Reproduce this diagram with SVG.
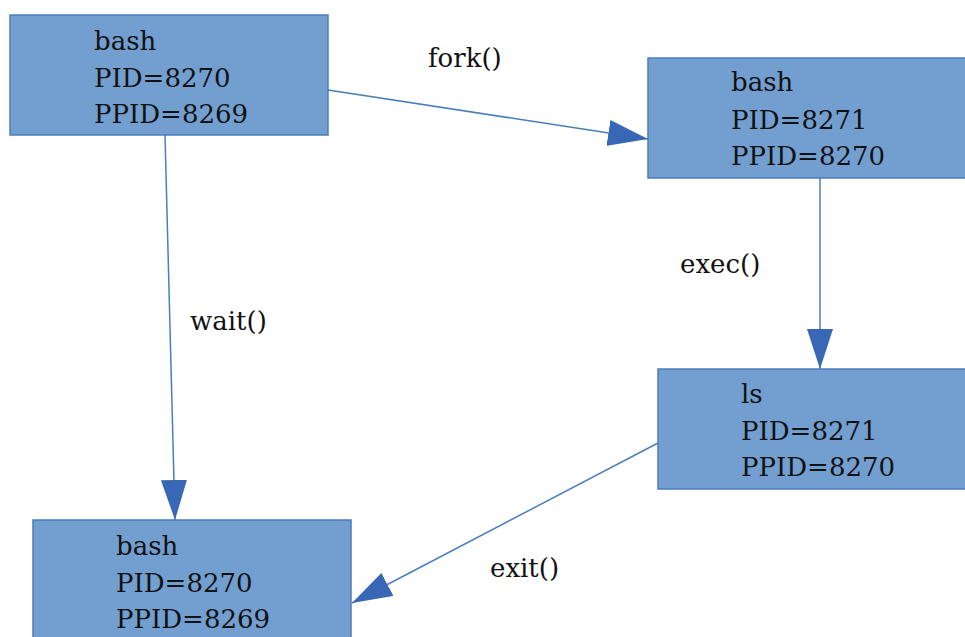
<svg xmlns="http://www.w3.org/2000/svg" width="965" height="637" viewBox="0 0 965 637">
<style>
.box{fill:#729fd0;stroke:#4a7ebb;stroke-width:1.5}
text{font-family:"DejaVu Serif",serif;font-size:26px;fill:#111}
.c{stroke:#4a7ebb;stroke-width:1.5;fill:none}
</style>
<defs>
<marker id="ah" markerWidth="40" markerHeight="26" refX="40" refY="13" orient="auto" markerUnits="userSpaceOnUse">
<path d="M0,0 L40,13 L0,26 Z" fill="#3767b5"/>
</marker>
</defs>
<rect width="965" height="637" fill="#fff"/>
<g id="connectors">
<line class="c" x1="328" y1="90" x2="648" y2="139" marker-end="url(#ah)"/>
<line class="c" x1="165" y1="135" x2="175" y2="520" marker-end="url(#ah)"/>
<line class="c" x1="820" y1="178" x2="820" y2="369" marker-end="url(#ah)"/>
<line class="c" x1="658" y1="443" x2="352" y2="603" marker-end="url(#ah)"/>
<text x="428" y="67">fork()</text>
<text x="190" y="330">wait()</text>
<text x="680" y="273">exec()</text>
<text x="490" y="577">exit()</text>
</g>
<g id="n1">
<rect class="box" x="10" y="15" width="318" height="120"/>
<text x="94" y="50">bash</text>
<text x="94" y="87">PID=8270</text>
<text x="94" y="123">PPID=8269</text>
</g>
<g id="n2">
<rect class="box" x="648" y="58" width="330" height="120"/>
<text x="731" y="91">bash</text>
<text x="731" y="129">PID=8271</text>
<text x="731" y="165">PPID=8270</text>
</g>
<g id="n3">
<rect class="box" x="658" y="369" width="320" height="120"/>
<text x="741" y="403">ls</text>
<text x="741" y="440">PID=8271</text>
<text x="741" y="476">PPID=8270</text>
</g>
<g id="n4">
<rect class="box" x="33" y="520" width="318" height="130"/>
<text x="116" y="555">bash</text>
<text x="116" y="592">PID=8270</text>
<text x="116" y="628">PPID=8269</text>
</g>
</svg>
